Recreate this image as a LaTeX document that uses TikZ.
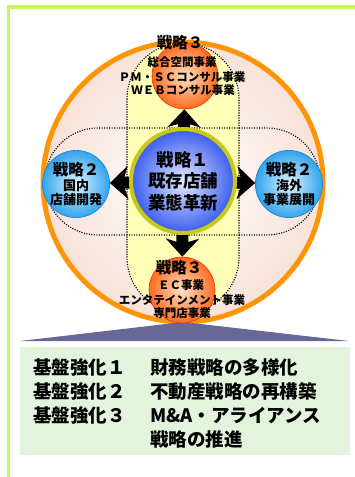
\documentclass[tikz,border=0pt]{standalone}
\usepackage{fontspec}
\setmainfont{Noto Sans CJK JP}
\usetikzlibrary{arrows.meta}
\pgfdeclarelayer{back}
\pgfdeclarelayer{mid}
\pgfsetlayers{back,mid,main}
\definecolor{framegreen}{HTML}{C8F560}
\definecolor{ringorange}{HTML}{FF9408}
\definecolor{bandyellow}{HTML}{FFFFB8}
\definecolor{ringyellow}{HTML}{C8C81A}
\definecolor{bluedeep}{HTML}{3A5CEE}
\definecolor{bluelight}{HTML}{E4EAFF}
\definecolor{skyedge}{HTML}{30A4EC}
\definecolor{skylight}{HTML}{E2F4FF}
\definecolor{skyline}{HTML}{1E7FD8}
\definecolor{orangeedge}{HTML}{FF6A1E}
\definecolor{orangelight}{HTML}{FFE2C4}
\definecolor{orangeline}{HTML}{E03A10}
\definecolor{purp}{HTML}{676798}
\definecolor{boxgreen}{HTML}{E2F4DC}
\definecolor{pinkglow}{HTML}{F8E2D8}
\tikzset{
  dotline/.style={line width=1.1pt, dash pattern=on 1.1pt off 1.4pt, line cap=butt},
  core/.style={circle, minimum size=104pt, inner sep=0pt, draw=ringyellow, line width=4pt,
    inner color=bluelight, outer color=bluedeep, align=center,
    font=\bfseries\fontsize{17.5}{21.5}\selectfont},
  sky/.style={circle, minimum size=66pt, inner sep=0pt, draw=skyline, line width=0.6pt,
    inner color=skylight, outer color=skyedge, align=center},
  orb/.style={circle, minimum size=66pt, inner sep=0pt, draw=orangeline, line width=0.6pt,
    inner color=orangelight, outer color=orangeedge},
  bigtxt/.style={inner sep=0pt, font=\bfseries\fontsize{15.5}{15.5}\selectfont},
  smtxt/.style={inner sep=0pt, font=\bfseries\fontsize{11.5}{11.5}\selectfont},
  rowtxt/.style={inner sep=0pt, anchor=base west, font=\bfseries\fontsize{18.5}{18.5}\selectfont},
  fatarrow/.style={line width=12pt, -{Stealth[length=18pt, width=33pt, inset=5pt]}, shorten <=-8pt}
}
\begin{document}
\begin{tikzpicture}[x=1pt, y=-1pt]
\useasboundingbox (0,0) rectangle (354,477);

% nodes
\node[core] (c) at (183,181) {戦略１\\既存店舗\\業態革新};
\node[sky] (l) at (76,184) {{\bfseries\fontsize{15.5}{18}\selectfont 戦略２}\\[1pt]{\bfseries\fontsize{13}{16}\selectfont 国内}\\{\bfseries\fontsize{13}{16}\selectfont 店舗開発}};
\node[sky] (r) at (289,184) {{\bfseries\fontsize{15.5}{18}\selectfont 戦略２}\\[1pt]{\bfseries\fontsize{13}{16}\selectfont 海外}\\{\bfseries\fontsize{13}{16}\selectfont 事業展開}};
\node[orb] (t) at (185,76) {};
\node[orb] (b) at (182,290) {};

\node[bigtxt] (t1) at (180,43) {戦略３};
\node[smtxt] (t2) at (182,62) {総合空間事業};
\node[smtxt] (t3) at (182,77) {ＰＭ・ＳＣコンサル事業};
\node[smtxt] (t4) at (183,90) {ＷＥＢコンサル事業};

\node[bigtxt] (b1) at (179,268) {戦略３};
\node[smtxt] (b2) at (181,285) {ＥＣ事業};
\node[smtxt] (b3) at (182,300) {エンタテインメント事業};
\node[smtxt] (b4) at (182,313) {専門店事業};

\node[rowtxt] (k1) at (33,374) {基盤強化１};
\node[rowtxt] (k2) at (33,398) {基盤強化２};
\node[rowtxt] (k3) at (33,422) {基盤強化３};
\node[rowtxt] (v1) at (150,374) {財務戦略の多様化};
\node[rowtxt] (v2) at (150,398) {不動産戦略の再構築};
\node[rowtxt] (v3) at (150,422) {M\&A・アライアンス};
\node[rowtxt] (v4) at (150,446) {戦略の推進};

\begin{pgfonlayer}{back}
  \fill[white] (0,0) rectangle (354,477);
  \draw[framegreen, line width=3.5pt] (8.7,480) -- (8.7,7) -- (356,7);
  \draw[ringorange, line width=5pt, inner color=white, outer color=pinkglow]
    (183,182) circle[radius=140pt];
  \draw[dotline, fill=bandyellow, rounded corners=55.9pt] (127,43) rectangle (239,313);
  \draw[dotline, rounded corners=53pt] (45,128) rectangle (320,235);
  \fill[purp] (183,322) -- (349,341) -- (20,341) -- cycle;
  \fill[boxgreen] (20,347) rectangle (350,455);
\end{pgfonlayer}

\begin{pgfonlayer}{mid}
  \draw[fatarrow] (c) -- (t);
  \draw[fatarrow] (c) -- (b);
  \draw[fatarrow] (c) -- (l);
  \draw[fatarrow] (c) -- (r);
\end{pgfonlayer}
\end{tikzpicture}
\end{document}
